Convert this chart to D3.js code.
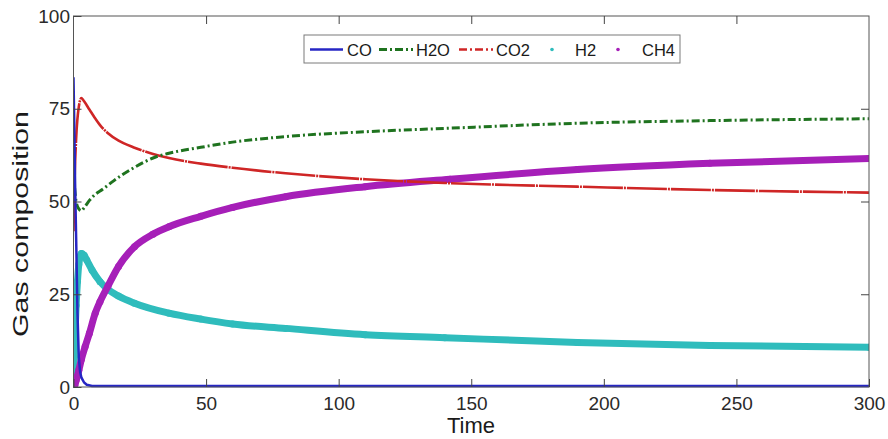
<!DOCTYPE html>
<html>
<head>
<meta charset="utf-8">
<script src="https://cdn.jsdelivr.net/npm/d3@7/dist/d3.min.js"></script>
<style>
  html, body { margin: 0; padding: 0; background: #fff; }
  svg { display: block; font-family: "Liberation Sans", Arial, Helvetica, sans-serif; }
</style>
</head>
<body>
<svg id="chart" width="888" height="439"></svg>
<script>
// Gas composition over time for each species (time, value) pairs
const coData = [[0,83.5],[0.3,70],[0.6,55],[1,40],[1.5,20],[2,8],[2.5,4],[3,2.5],[4,1.2],[5,0.6],[7,0.3],[50,0.3],[100,0.3],[150,0.3],[200,0.3],[250,0.3],[300,0.3]];
const h2oData = [[0,58],[0.5,53],[1,50],[2,48],[3,47.5],[4,48.3],[6,50.3],[8,51.8],[11,53.3],[15,55.5],[23,59.2],[31,62.0],[36,63.0],[48,64.6],[60,66.0],[80,67.5],[110,68.8],[140,69.7],[190,71.1],[240,71.8],[300,72.3]];
const co2Data = [[0,42],[0.5,58],[1,67],[2,75.5],[3,77.9],[4,77.0],[6,74.8],[8,72.6],[10,70.6],[13,68.4],[17,66.4],[23,64.5],[30,62.8],[36,61.7],[48,60.2],[60,59.1],[80,57.6],[110,56.0],[140,55.0],[190,54.0],[240,53.1],[300,52.4]];
const h2Data = [[0,0],[0.3,8],[0.6,15],[1,22],[1.5,28.5],[2,33],[3,36],[4,35.5],[5,34.2],[7,31.5],[10,28.4],[13,26.3],[17,24.5],[23,22.6],[36,19.9],[48,18.3],[60,17.0],[80,15.8],[110,14.1],[140,13.3],[190,12.0],[240,11.2],[300,10.7]];
const ch4Data = [[0,0],[0.5,0.5],[1,1.8],[2,4.5],[3,7.5],[4.4,10.9],[6,14.5],[8.2,19.9],[10,23],[13,27.2],[17,32.5],[23,37.8],[30,41.2],[36,43.2],[48,46.0],[60,48.4],[80,51.3],[110,54.0],[142,56.0],[190,58.6],[240,60.3],[300,61.6]];

const xTicks = [0, 50, 100, 150, 200, 250, 300];
const yTicks = [0, 25, 50, 75, 100];
const legendNames = ["CO", "H2O", "CO2", "H2", "CH4"];

const svg = d3.select("#chart");
const margin = { left: 73.5, right: 19, top: 16, bottom: 52 };
const W = 888, H = 439;

const x = d3.scaleLinear().domain([0, 300]).range([margin.left, W - margin.right]);
const y = d3.scaleLinear().domain([0, 100]).range([H - margin.bottom, margin.top]);

const colors = { CO: "#2626c4", H2O: "#1f731f", CO2: "#cf2626", H2: "#2fbcbc", CH4: "#a61fb8" };

// clip series to the axes box
svg.append("defs").append("clipPath").attr("id", "plotclip")
  .append("rect")
  .attr("x", x(0)).attr("y", y(100))
  .attr("width", x(300) - x(0)).attr("height", y(0) - y(100) + 1);

const plot = svg.append("g").attr("clip-path", "url(#plotclip)");

const smooth = d3.line().x(d => x(d[0])).y(d => y(d[1])).curve(d3.curveMonotoneX);
const straight = d3.line().x(d => x(d[0])).y(d => y(d[1]));

// H2 and CH4: dense markers, drawn as a thick trace with dots
function dotted(data, color) {
  plot.append("path").datum(data)
    .attr("d", smooth).attr("fill", "none")
    .attr("stroke", color).attr("stroke-width", 7).attr("stroke-linecap", "round");
  plot.selectAll(null).data(data).enter().append("circle")
    .attr("cx", d => x(d[0])).attr("cy", d => y(d[1])).attr("r", 3.5)
    .attr("fill", color);
}
dotted(h2Data, colors.H2);
dotted(ch4Data, colors.CH4);

// CO2: dash-dot red (dense samples make it read almost solid)
plot.append("path").datum(co2Data)
  .attr("d", smooth).attr("fill", "none")
  .attr("stroke", colors.CO2).attr("stroke-width", 2.6)
  .attr("stroke-dasharray", "40,1,2,1");

// H2O: dash-dot green
plot.append("path").datum(h2oData)
  .attr("d", smooth).attr("fill", "none")
  .attr("stroke", colors.H2O).attr("stroke-width", 3)
  .attr("stroke-dasharray", "8,3,2,3");

// CO: solid blue
plot.append("path").datum(coData)
  .attr("d", straight).attr("fill", "none")
  .attr("stroke", colors.CO).attr("stroke-width", 2.5);

// Axes box
svg.append("rect")
  .attr("x", x(0)).attr("y", y(100))
  .attr("width", x(300) - x(0)).attr("height", y(0) - y(100))
  .attr("fill", "none").attr("stroke", "#555").attr("stroke-width", 1);

const tickFont = 19;
function styleAxis(g) {
  g.select(".domain").remove();
  g.selectAll(".tick line").attr("stroke", "#444");
  g.selectAll(".tick text").attr("fill", "#2a2a2a").attr("font-size", tickFont);
}

svg.append("g").attr("transform", `translate(${x(0)},0)`)
  .call(d3.axisLeft(y).tickValues(yTicks).tickSizeInner(-8).tickSizeOuter(0).tickPadding(3.5))
  .call(styleAxis);

svg.append("g").attr("transform", `translate(0,${y(0)})`)
  .call(d3.axisBottom(x).tickValues(xTicks).tickSizeInner(-8).tickSizeOuter(0).tickPadding(10))
  .call(styleAxis);

svg.append("g").attr("transform", `translate(${x(300)},0)`)
  .call(d3.axisRight(y).tickValues(yTicks.slice(1, -1)).tickSizeInner(-8).tickSizeOuter(0).tickFormat(""))
  .call(styleAxis);

svg.append("g").attr("transform", `translate(0,${y(100)})`)
  .call(d3.axisTop(x).tickValues(xTicks.slice(1, -1)).tickSizeInner(-8).tickSizeOuter(0).tickFormat(""))
  .call(styleAxis);

// Axis titles
svg.append("text")
  .attr("x", 471).attr("y", 433)
  .attr("text-anchor", "middle").attr("font-size", 22).attr("fill", "#1a1a1a")
  .text("Time");

svg.append("text")
  .attr("transform", "translate(28,224) rotate(-90)")
  .attr("text-anchor", "middle").attr("font-size", 22).attr("fill", "#1a1a1a")
  .attr("textLength", 226).attr("lengthAdjust", "spacingAndGlyphs")
  .text("Gas composition");

// Legend
const legend = svg.append("g");
legend.append("rect")
  .attr("x", 304).attr("y", 35).attr("width", 376).attr("height", 28)
  .attr("fill", "#fff").attr("stroke", "#7a7a7a").attr("stroke-width", 1);

const ly = 49.5;
const legendItems = [
  { name: legendNames[0], kind: "line", x0: 310, x1: 343, tx: 347, dash: null, w: 2.5 },
  { name: legendNames[1], kind: "line", x0: 379, x1: 413, tx: 416, dash: "8,3,2,3", w: 3 },
  { name: legendNames[2], kind: "line", x0: 459, x1: 493, tx: 496, dash: "8,3,2,3", w: 2.6 },
  { name: legendNames[3], kind: "dot", cx: 552, tx: 575 },
  { name: legendNames[4], kind: "dot", cx: 618, tx: 642 }
];
legendItems.forEach(it => {
  const c = colors[it.name];
  if (it.kind === "line") {
    legend.append("line")
      .attr("x1", it.x0).attr("x2", it.x1).attr("y1", ly).attr("y2", ly)
      .attr("stroke", c).attr("stroke-width", it.w)
      .attr("stroke-dasharray", it.dash);
  } else {
    legend.append("circle").attr("cx", it.cx).attr("cy", ly).attr("r", 1.8).attr("fill", c);
  }
  legend.append("text")
    .attr("x", it.tx).attr("y", ly + 6)
    .attr("font-size", 16.5).attr("fill", "#1a1a1a")
    .text(it.name);
});
</script>
</body>
</html>
